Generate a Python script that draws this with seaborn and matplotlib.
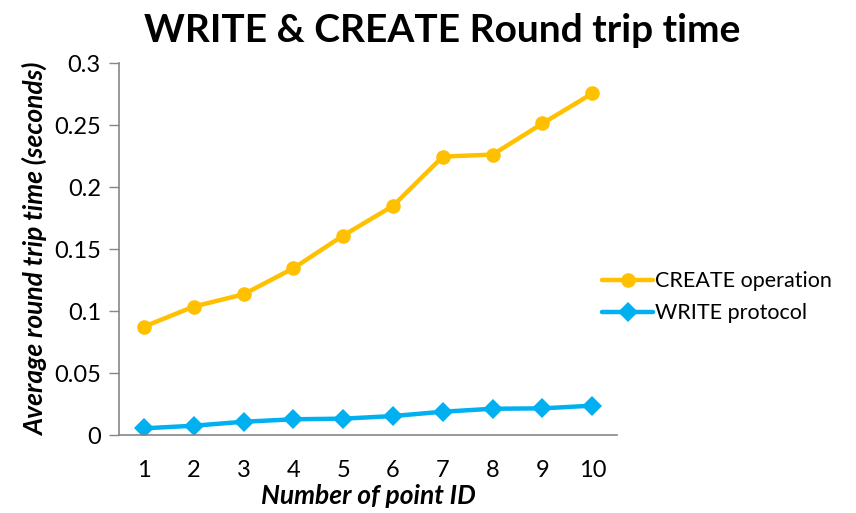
import matplotlib
matplotlib.use("Agg")
import matplotlib.pyplot as plt
import seaborn as sns
import pandas as pd

point_ids = [1, 2, 3, 4, 5, 6, 7, 8, 9, 10]
create_op = [0.0874, 0.1036, 0.1135, 0.1345, 0.1609, 0.1848, 0.2246, 0.2262, 0.2513, 0.2755]
write_proto = [0.0054, 0.0075, 0.0107, 0.0127, 0.0132, 0.0153, 0.0188, 0.0212, 0.0215, 0.0237]
series_names = ["CREATE operation", "WRITE protocol"]
y_ticks = [0, 0.05, 0.1, 0.15, 0.2, 0.25, 0.3]
y_tick_labels = ["0", "0.05", "0.1", "0.15", "0.2", "0.25", "0.3"]

df = pd.DataFrame({
    "x": point_ids * 2,
    "y": create_op + write_proto,
    "series": [series_names[0]] * len(point_ids) + [series_names[1]] * len(point_ids),
})

sns.set_theme(style="white")
plt.rcParams["font.family"] = ["Lato", "DejaVu Sans"]
plt.rcParams["text.color"] = "black"
plt.rcParams["axes.labelcolor"] = "black"
plt.rcParams["xtick.color"] = "black"
plt.rcParams["ytick.color"] = "black"

fig = plt.figure(figsize=(8.56, 5.13), dpi=100)
ax = fig.add_axes([0.139, 0.152, 0.582, 0.725])

palette = {series_names[0]: "#FFC000", series_names[1]: "#00B0F0"}
markers = {series_names[0]: "o", series_names[1]: "D"}
sns.lineplot(data=df, x="x", y="y", hue="series", style="series",
             palette=palette, markers=markers, dashes=False,
             linewidth=3.2, markersize=10.5, markeredgewidth=0, ax=ax)

ax.set_xlim(0.5, 10.5)
ax.set_ylim(0, 0.3)
ax.set_xticks(point_ids)
ax.set_xticklabels([str(p) for p in point_ids], fontsize=17)
ax.set_yticks(y_ticks)
ax.set_yticklabels(y_tick_labels, fontsize=17)
ax.tick_params(axis="y", length=7, width=1, color="#868686", labelcolor="black", direction="out", left=True, pad=6)
ax.tick_params(axis="x", length=0, pad=18, labelcolor="black")
for s in ["top", "right"]:
    ax.spines[s].set_visible(False)
for s in ["left", "bottom"]:
    ax.spines[s].set_color("#868686")
    ax.spines[s].set_linewidth(1.2)

ax.set_xlabel("Number of point ID", fontsize=19, fontweight="bold", fontstyle="italic", labelpad=2, color="black")
ax.set_ylabel("Average round trip time (seconds)", fontsize=19, fontweight="bold", fontstyle="italic", labelpad=4, color="black")
fig.suptitle("WRITE & CREATE Round trip time", fontsize=28, fontweight="bold", x=0.517, y=0.975, color="black")

leg = ax.legend(loc="center left", bbox_to_anchor=(0.93, 0.37), frameon=False,
                fontsize=15.5, handlelength=2.4, handletextpad=0.1, labelspacing=0.55)
for h in leg.get_lines():
    h.set_linewidth(3.2)
for t in leg.get_texts():
    t.set_color("black")

fig.savefig("out.png", dpi=100)
